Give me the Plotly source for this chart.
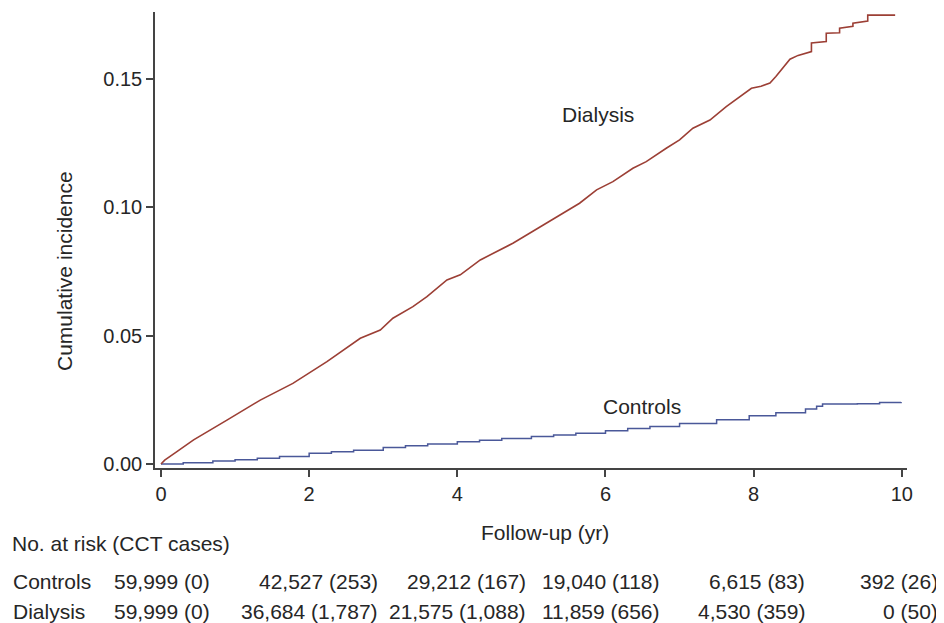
import plotly.graph_objects as go

# ---- data ----
# Dialysis curve: readings along the curve, with the visible late steps kept explicit
dialysis_t = [0, 0.05, 0.2, 0.44, 0.89, 1.34, 1.78, 2.24, 2.69, 2.96, 3.13, 3.40, 3.59, 3.86,
              4.04, 4.31, 4.75, 5.20, 5.65, 5.88, 6.10, 6.37, 6.55, 6.82, 7.0, 7.18, 7.41,
              7.63, 7.85, 7.97, 8.1, 8.22, 8.3, 8.4, 8.49, 8.6, 8.78, 8.78, 8.98, 8.98,
              9.16, 9.16, 9.34, 9.34, 9.54, 9.54, 9.91]
dialysis_ci = [0, 0.0015, 0.0045, 0.0094, 0.0171, 0.0249, 0.0314, 0.0399, 0.0490, 0.0522,
               0.0568, 0.0613, 0.0652, 0.0717, 0.0737, 0.0795, 0.0860, 0.0938, 0.1016,
               0.1068, 0.1100, 0.1152, 0.1178, 0.1230, 0.1263, 0.1308, 0.1340, 0.1392,
               0.1438, 0.1464, 0.1472, 0.1484, 0.1510, 0.1545, 0.1577, 0.1592, 0.1607,
               0.1640, 0.1646, 0.1678, 0.1680, 0.1698, 0.1705, 0.1717, 0.1726, 0.1749, 0.1749]

controls_t = [0, 0.3, 0.7, 1.0, 1.3, 1.6, 2.0, 2.3, 2.6, 3.0, 3.3, 3.6, 4.0, 4.3, 4.6, 5.0,
              5.3, 5.6, 6.0, 6.3, 6.6, 7.0, 7.5, 7.94, 8.3, 8.7, 8.85, 8.93, 9.4, 9.7, 9.99]
controls_ci = [0, 0.0005, 0.0012, 0.0017, 0.0022, 0.0029, 0.0042, 0.0048, 0.0054, 0.0064,
               0.0071, 0.0078, 0.0087, 0.0093, 0.0099, 0.0107, 0.0113, 0.0120, 0.0130,
               0.0138, 0.0146, 0.0158, 0.0172, 0.0188, 0.0200, 0.0214, 0.0225, 0.0234,
               0.0235, 0.0240, 0.0242]

x_ticks = [0, 2, 4, 6, 8, 10]
y_ticks = [0.00, 0.05, 0.10, 0.15]

risk_header = "No. at risk (CCT cases)"
risk_groups = ["Controls", "Dialysis"]
risk_controls = ["59,999 (0)", "42,527 (253)", "29,212 (167)", "19,040 (118)", "6,615 (83)", "392 (26)"]
risk_dialysis = ["59,999 (0)", "36,684 (1,787)", "21,575 (1,088)", "11,859 (656)", "4,530 (359)", "0 (50)"]

# ---- layout geometry (window pixels; page body adds an 8px offset) ----
OFF = 8
W, H = 944 - OFF, 623 - OFF
PLOT_L, PLOT_R, PLOT_T, PLOT_B = 155, 907, 12, 468   # plot area in window pixels
L, R, T, B = PLOT_L - OFF, W - (PLOT_R - OFF), PLOT_T - OFF, H - (PLOT_B - OFF)
PW, PH = W - L - R, H - T - B
FONT = "Liberation Sans, Arial, sans-serif"
TXT = "#262626"
AX = "#444444"


def px(xp):
    return (xp - OFF - L) / PW


def py(yp):
    return (H - B - (yp - OFF)) / PH


def tfont(size=21):
    return dict(size=size, color=TXT, family=FONT)


fig = go.Figure()
fig.add_trace(go.Scatter(x=controls_t, y=controls_ci, mode="lines", line_shape="hv",
                         line=dict(color="#4a5899", width=1.5), name="Controls"))
fig.add_trace(go.Scatter(x=dialysis_t, y=dialysis_ci, mode="lines", line_shape="linear",
                         line=dict(color="#9c3f35", width=1.6), name="Dialysis"))

ann_list = []
ann_list.append(dict(text="Dialysis", x=px(598), y=py(114), xref="paper", yref="paper",
                     showarrow=False, xanchor="center", yanchor="middle", font=tfont()))
ann_list.append(dict(text="Controls", x=px(642), y=py(406), xref="paper", yref="paper",
                     showarrow=False, xanchor="center", yanchor="middle", font=tfont()))
ann_list.append(dict(text="Cumulative incidence", x=px(65), y=py(271), xref="paper", yref="paper",
                     textangle=-90, showarrow=False, xanchor="center", yanchor="middle",
                     font=tfont()))
ann_list.append(dict(text="Follow-up (yr)", x=px(545), y=py(532), xref="paper", yref="paper",
                     showarrow=False, xanchor="center", yanchor="middle", font=tfont()))
ann_list.append(dict(text=risk_header, x=px(10), y=py(543), xref="paper", yref="paper",
                     showarrow=False, xanchor="left", yanchor="middle", font=tfont()))
row_y = [581, 611]
col_right = [212, 380, 528, 662, 807, 940]
for gname, vals, ry in zip(risk_groups, [risk_controls, risk_dialysis], row_y):
    ann_list.append(dict(text=gname, x=px(11), y=py(ry), xref="paper", yref="paper",
                         showarrow=False, xanchor="left", yanchor="middle", font=tfont()))
    for v, cx in zip(vals, col_right):
        ann_list.append(dict(text=v, x=px(cx), y=py(ry), xref="paper", yref="paper",
                             showarrow=False, xanchor="right", yanchor="middle", font=tfont()))

fig.update_layout(
    width=W, height=H,
    margin=dict(l=L, r=R, t=T, b=B, pad=0),
    paper_bgcolor="white", plot_bgcolor="white",
    showlegend=False,
    annotations=ann_list,
    font=dict(family=FONT, color=TXT),
)
fig.update_xaxes(range=[-0.081, 10.07], tickvals=x_ticks, ticktext=[str(v) for v in x_ticks],
                 showgrid=False, zeroline=False, showline=True, linecolor=AX, linewidth=1.5,
                 ticks="outside", ticklen=7, tickcolor=AX, tickwidth=1.5,
                 tickfont=tfont(20))
fig.update_yaxes(range=[-0.00156, 0.1761], tickvals=y_ticks, ticktext=[f"{v:.2f}" for v in y_ticks],
                 showgrid=False, zeroline=False, showline=True, linecolor=AX, linewidth=1.5,
                 ticks="outside", ticklen=7, tickcolor=AX, tickwidth=1.5,
                 tickfont=tfont(20))

fig.write_html("out.html")
